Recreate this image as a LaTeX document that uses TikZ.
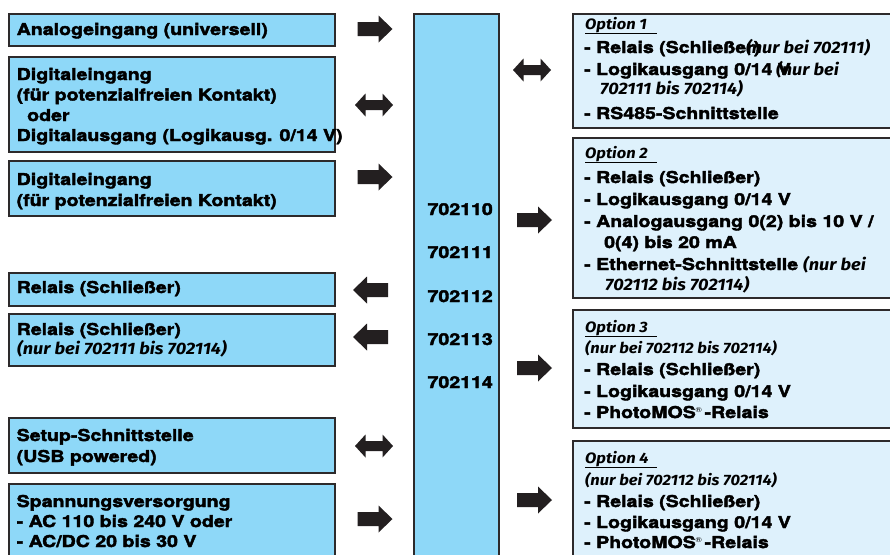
\documentclass[tikz,border=0pt]{standalone}
\usepackage{fontspec}
\setmainfont{TeX Gyre Heros}[FakeStretch=1.2, BoldFeatures={FakeBold=2.5}]
\newfontfamily\itf{Fira Sans}[FakeStretch=1.1]
\definecolor{boxblue}{HTML}{8ED8F8}
\definecolor{optblue}{HTML}{DEF1FC}
\definecolor{edge}{HTML}{2D2A2B}
\definecolor{arrowc}{HTML}{231F20}
\tikzset{
  pics/rarr/.style={code={\fill[arrowc] (-17.5,-7) -- (3.5,-7) -- (3.5,-13.5) -- (17.5,0) -- (3.5,13.5) -- (3.5,7) -- (-17.5,7) -- cycle;}},
  pics/darr/.style={code={\fill[arrowc] (-19,0) -- (-8.5,-11.5) -- (-8.5,-5) -- (8.5,-5) -- (8.5,-11.5) -- (19,0) -- (8.5,11.5) -- (8.5,5) -- (-8.5,5) -- (-8.5,11.5) -- cycle;}},
}
\newcommand{\regmark}{\raisebox{5.5pt}{\fontsize{7}{7}\selectfont\mdseries ®}}
\begin{document}
\begin{tikzpicture}[x=1pt,y=-1pt,
  lbox/.style={draw=edge, line width=1.8pt, fill=boxblue, anchor=north west, inner sep=0pt, minimum width=326pt},
  obox/.style={draw=edge, line width=1.8pt, fill=optblue, anchor=north west, inner sep=0pt, minimum width=340pt},
  txt/.style={anchor=base west, inner sep=0pt, font=\fontsize{16.3}{20}\selectfont\bfseries, text=black},
  num/.style={anchor=base east, inner sep=0pt, font=\fontsize{16.3}{20}\selectfont\bfseries, text=black},
  itx/.style={anchor=base west, inner sep=0pt, font=\itf\fontsize{15}{17}\selectfont\bfseries\itshape, text=black},
  itl/.style={anchor=base west, inner sep=0pt, font=\itf\fontsize{16.5}{18}\selectfont\bfseries\itshape, text=black},
  uline/.style={draw=black, line width=0.9pt}
]
\useasboundingbox (0,0) rectangle (890,554);
\clip (0,0) rectangle (890,554);
\fill[white] (0,0) rectangle (890,554);

% left boxes
\node[lbox, minimum height=32pt] (b1) at (8,13) {};
\node[lbox, minimum height=95pt] (b2) at (8,56) {};
\node[lbox, minimum height=55pt] (b3) at (8,160) {};
\node[lbox, minimum height=33pt] (b4) at (8,272) {};
\node[lbox, minimum height=52pt] (b5) at (8,313) {};
\node[lbox, minimum height=55pt] (b6) at (8,417) {};
\node[lbox, minimum height=100pt] (b7) at (8,483) {};

% center box
\node[draw=edge, line width=1.8pt, fill=boxblue, anchor=north west, inner sep=0pt, minimum width=85pt, minimum height=600pt] (c) at (413,13) {};

% option boxes
\node[obox, minimum height=114pt] (o1) at (572,13) {};
\node[obox, minimum height=160pt] (o2) at (572,137) {};
\node[obox, minimum height=118pt] (o3) at (572,309) {};
\node[obox, minimum height=150pt] (o4) at (572,440) {};

% left texts
\node[txt] (t1) at (16.5,35) {Analogeingang (universell)};
\node[txt] (t2a) at (16.5,80) {Digitaleingang};
\node[txt] (t2b) at (16.5,100.5) {(für potenzialfreien Kontakt)};
\node[txt] (t2c) at (27,121) {oder};
\node[txt] (t2d) at (16.5,141) {Digitalausgang (Logikausg. 0/14 V)};
\node[txt] (t3a) at (16.5,185) {Digitaleingang};
\node[txt] (t3b) at (16.5,206) {(für potenzialfreien Kontakt)};
\node[txt] (t4) at (16.5,293) {Relais (Schließer)};
\node[txt] (t5a) at (16.5,335) {Relais (Schließer)};
\node[itl] (t5b) at (17,354) {(nur bei 702111 bis 702114)};
\node[txt] (t6a) at (16.5,441) {Setup-Schnittstelle};
\node[txt] (t6b) at (16.5,462) {(USB powered)};
\node[txt] (t7a) at (16.5,507) {Spannungsversorgung};
\node[txt] (t7b) at (16.5,527) {- AC 110 bis 240 V oder};
\node[txt] (t7c) at (16.5,547) {- AC/DC 20 bis 30 V};

% center numbers
\node[num] (n0) at (493,215) {702110};
\node[num] (n1) at (493,258) {702111};
\node[num] (n2) at (493,302) {702112};
\node[num] (n3) at (493,345) {702113};
\node[num] (n4) at (493,388) {702114};

% option 1
\node[itx] (h1) at (585,29) {Option 1};
\draw[uline] (585,33) -- (657,33);
\node[txt] (o1a) at (584,53) {- Relais (Schließer)};
\node[itl] (o1ai) at (746,53) {(nur bei 702111)};
\node[txt] (o1b) at (584,75) {- Logikausgang 0/14 V};
\node[itl] (o1bi) at (776,75) {(nur bei};
\node[itl] (o1bj) at (600,94) {702111 bis 702114)};
\node[txt] (o1c) at (584,119) {- RS485-Schnittstelle};

% option 2
\node[itx] (h2) at (585,158) {Option 2};
\draw[uline] (585,162) -- (657,162);
\node[txt] (o2a) at (584,183) {- Relais (Schließer)};
\node[txt] (o2b) at (584,205) {- Logikausgang 0/14 V};
\node[txt] (o2c) at (584,227) {- Analogausgang 0(2) bis 10 V /};
\node[txt] (o2d) at (604,248) {0(4) bis 20 mA};
\node[txt] (o2e) at (584,270) {- Ethernet-Schnittstelle};
\node[itl] (o2ei) at (803,270) {(nur bei};
\node[itl] (o2ej) at (605,290) {702112 bis 702114)};

% option 3
\node[itx] (h3) at (585,332) {Option 3};
\draw[uline] (585,336) -- (657,336);
\node[itx] (o3i) at (585,353) {(nur bei 702112 bis 702114)};
\node[txt] (o3a) at (584,375) {- Relais (Schließer)};
\node[txt] (o3b) at (584,397) {- Logikausgang 0/14 V};
\node[txt] (o3c) at (584,418) {- PhotoMOS\regmark\,-Relais};

% option 4
\node[itx] (h4) at (585,463) {Option 4};
\draw[uline] (585,467) -- (657,467);
\node[itx] (o4i) at (585,485) {(nur bei 702112 bis 702114)};
\node[txt] (o4a) at (584,507) {- Relais (Schließer)};
\node[txt] (o4b) at (584,528) {- Logikausgang 0/14 V};
\node[txt] (o4c) at (584,548) {- PhotoMOS\regmark\,-Relais};

% arrows left column
\pic at (375,29) {rarr};
\pic at (374,105) {darr};
\pic at (375,177) {rarr};
\pic[xscale=-1] at (370.5,290) {rarr};
\pic[xscale=-1] at (370.5,337) {rarr};
\pic at (374,446) {darr};
\pic at (375,519) {rarr};
% arrows right column
\pic at (532,70) {darr};
\pic at (534.5,220) {rarr};
\pic at (534.5,368) {rarr};
\pic at (534.5,500) {rarr};
\end{tikzpicture}
\end{document}
